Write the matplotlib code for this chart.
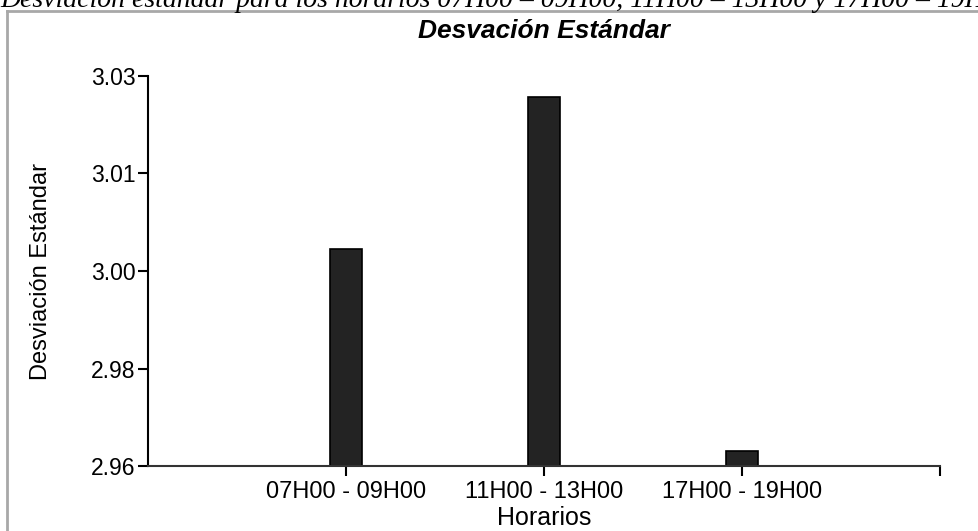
import matplotlib.pyplot as plt
from matplotlib.lines import Line2D

horarios = ['07H00 - 09H00', '11H00 - 13H00', '17H00 - 19H00']
desviacion = [2.999, 3.0262, 2.9627]
ytick_vals = [2.96, 2.9775, 2.995, 3.0125, 3.03]
ytick_labels = ['2.96', '2.98', '3.00', '3.01', '3.03']

plt.rcParams['font.family'] = ['Liberation Sans', 'DejaVu Sans']

fig = plt.figure(figsize=(9.79, 5.31), dpi=100)
ax = fig.add_axes([148 / 979, 1 - 466 / 531, (940 - 148) / 979, (466 - 76) / 531])

pos = range(1, len(horarios) + 1)
ax.bar(pos, desviacion, width=0.16, color='#232323', edgecolor='black', linewidth=1.2)

ax.set_xlim(0, 4)
ax.set_ylim(2.96, 3.03)
ax.set_xticks([1, 2, 3, 4])
ax.set_xticklabels(horarios + [''], fontsize=17)
ax.set_yticks(ytick_vals)
ax.set_yticklabels(ytick_labels, fontsize=16.5)
ax.tick_params(direction='out', length=7, width=1.5, color='black', pad=2)
ax.tick_params(axis='x', pad=4)

for s in ['top', 'right']:
    ax.spines[s].set_visible(False)
for s in ['left', 'bottom']:
    ax.spines[s].set_linewidth(1.5)
ax.spines['left'].set_color('black')
ax.spines['bottom'].set_color('#333333')

ax.set_xlabel('Horarios', fontsize=18, labelpad=2)
ax.set_ylabel('Desviación Estándar', fontsize=17, labelpad=28)
ax.set_title('Desvación Estándar', fontsize=19, fontweight='bold', fontstyle='italic', pad=27)

# gray frame of the original figure
fig.add_artist(Line2D([7 / 979, 1], [1 - 11 / 531, 1 - 11 / 531], color='#a8a8a8', lw=2))
fig.add_artist(Line2D([7 / 979, 7 / 979], [0, 1 - 11 / 531], color='#a8a8a8', lw=2))

# caption cut off at the top
fig.text(0.0, 1 - 7 / 531, 'Desviación estándar para los horarios 07H00 – 09H00, 11H00 – 13H00 y 17H00 – 19H00',
         family=['Liberation Serif', 'DejaVu Serif'], fontstyle='italic', fontsize=20, va='baseline', ha='left')

fig.savefig('out.png', dpi=100)
